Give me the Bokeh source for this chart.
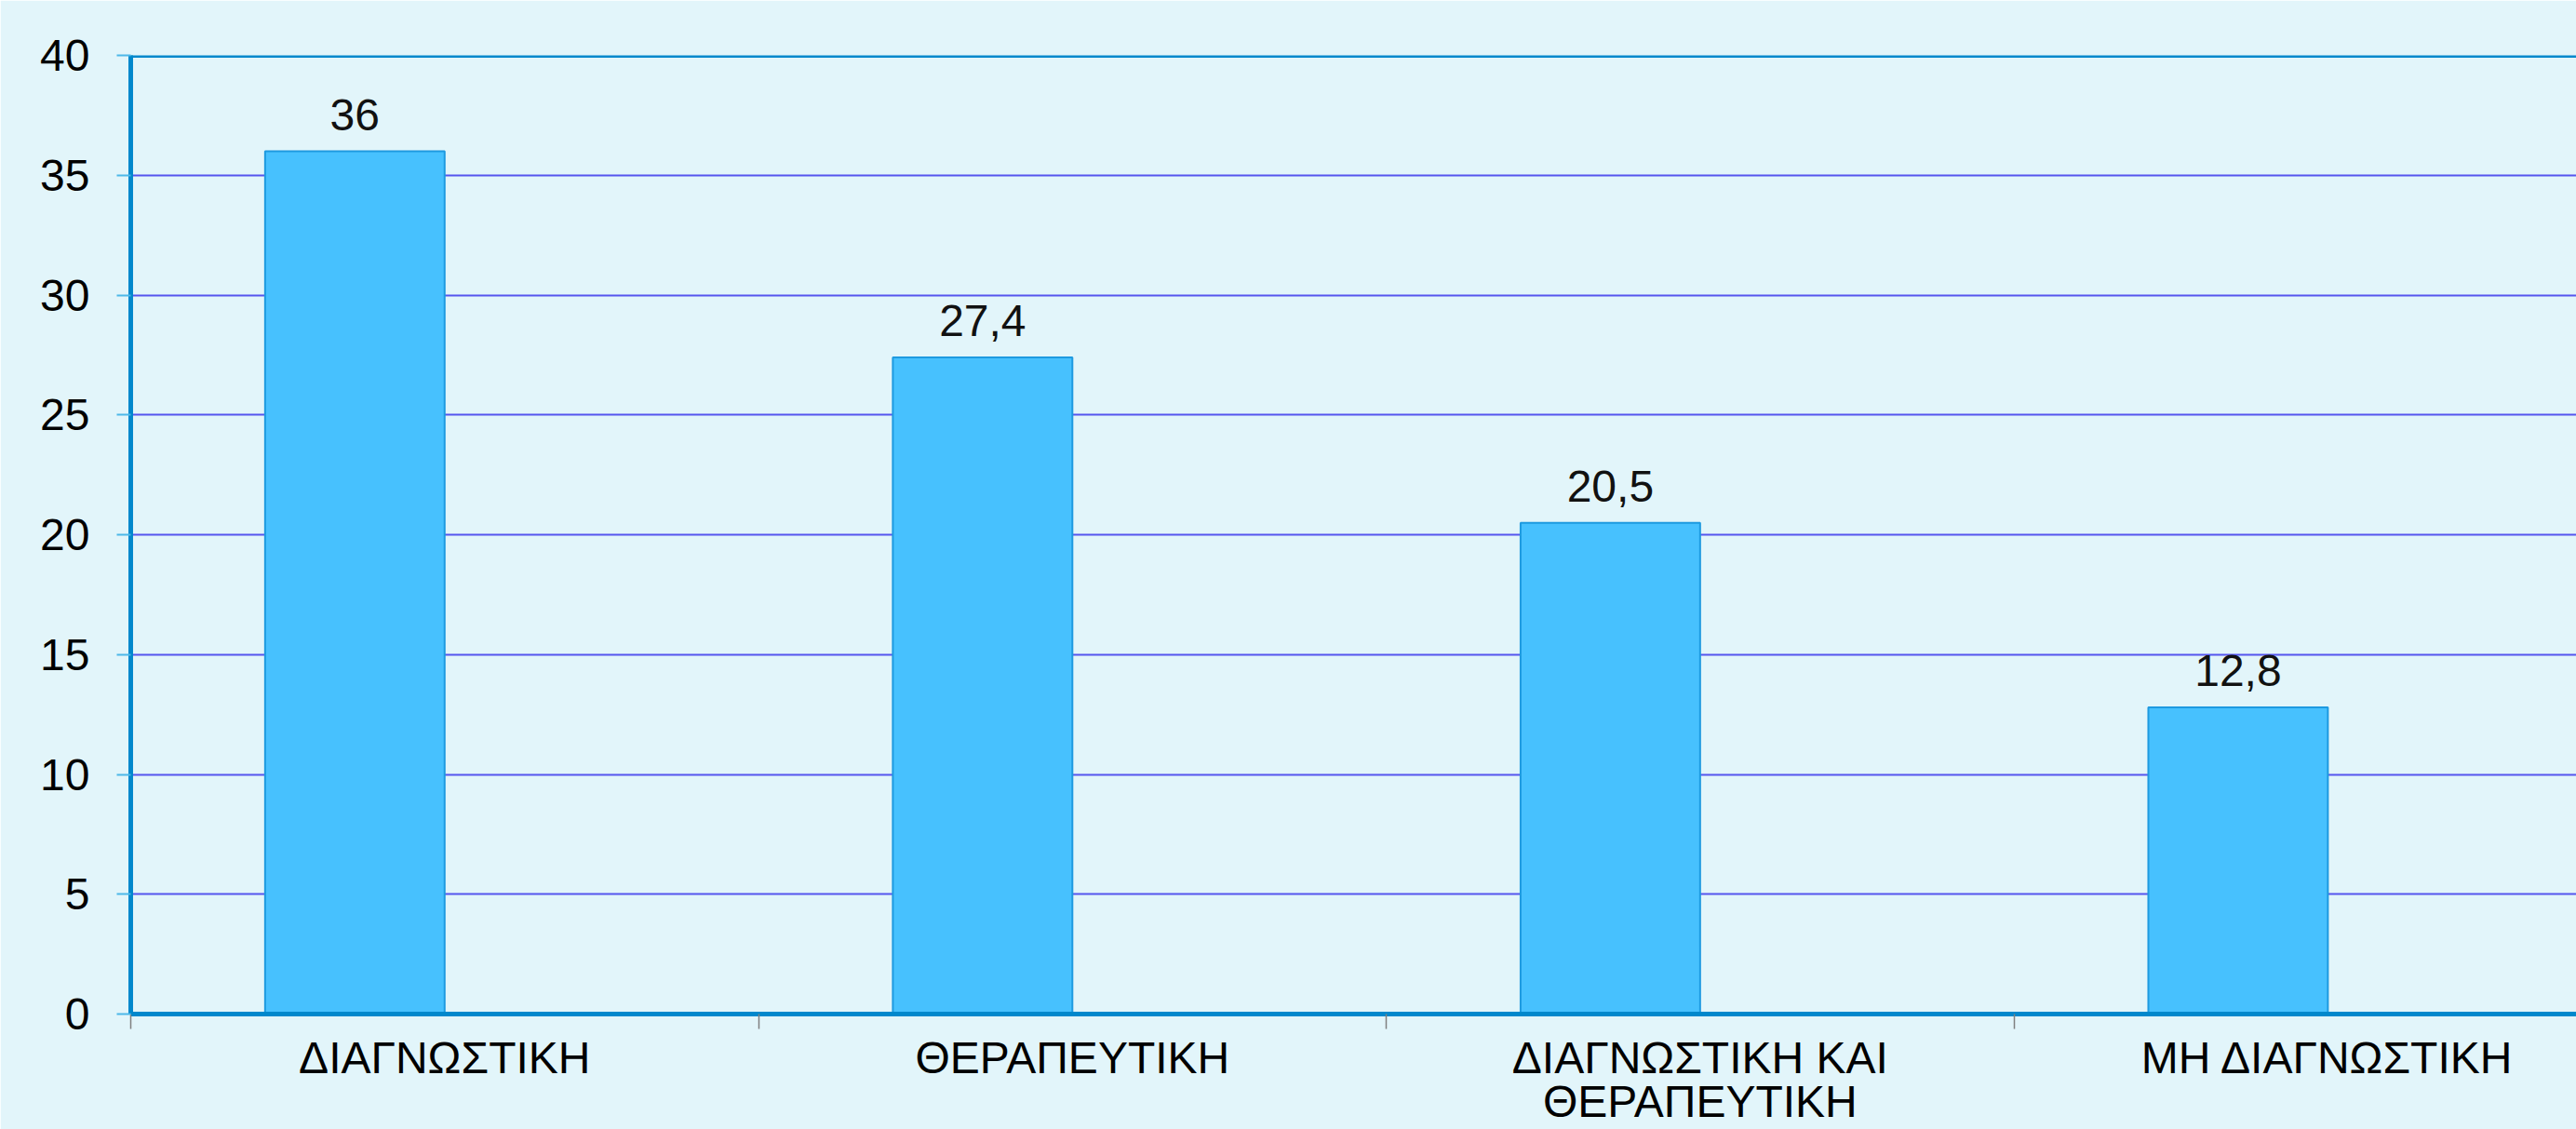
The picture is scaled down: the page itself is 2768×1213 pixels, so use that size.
import textwrap
from bokeh.plotting import figure
from bokeh.models import Range1d, FixedTicker, Span, LabelSet, ColumnDataSource
from bokeh.core.properties import value
from bokeh.embed import file_html
from bokeh.resources import INLINE

# ---- data ----
categories = ["ΔΙΑΓΝΩΣΤΙΚΗ", "ΘΕΡΑΠΕΥΤΙΚΗ", "ΔΙΑΓΝΩΣΤΙΚΗ ΚΑΙ ΘΕΡΑΠΕΥΤΙΚΗ", "ΜΗ ΔΙΑΓΝΩΣΤΙΚΗ"]
values = [36, 27.4, 20.5, 12.8]
y_ticks = [0, 5, 10, 15, 20, 25, 30, 35, 40]

# ---- style ----
FONT = "Liberation Sans"
FS = "48px"
BG = "#E2F5FA"
AXIS_BLUE = "#0088CC"
GRID = "#5555EE"
BAR_FILL = "#47C1FE"
BAR_LINE = "#1E9AE0"
BAR_W = 0.286

n = len(categories)
centers = [i + 0.5 for i in range(n)]
bar_x = [c - BAR_W / 2 for c in centers]
texts = [f"{v:g}".replace(".", ",") for v in values]
wrapped = ["\n".join(textwrap.wrap(c, 16)) for c in categories]

p = figure(width=2768, height=1213, output_backend="svg", toolbar_location=None,
           x_range=Range1d(0, 3.896), y_range=Range1d(0, 40),
           min_border_left=140, min_border_top=59, min_border_right=0, min_border_bottom=123)
p.background_fill_color = BG
p.border_fill_color = BG
p.outline_line_color = None

src = ColumnDataSource(dict(x=bar_x, top=values, text=texts))
p.vbar(x="x", top="top", bottom=0, width=BAR_W, source=src,
       fill_color=BAR_FILL, line_color=BAR_LINE, line_width=2)

p.add_layout(LabelSet(x="x", y="top", text="text", source=src, y_offset=23,
                      text_align="center", text_baseline="alphabetic",
                      text_font=value(FONT), text_font_size=value(FS), text_color="#111111"))

# grid
p.xgrid.grid_line_color = None
p.ygrid.ticker = FixedTicker(ticks=y_ticks)
p.ygrid.grid_line_color = GRID
p.ygrid.grid_line_width = 2

# y axis
p.yaxis.ticker = FixedTicker(ticks=y_ticks)
p.yaxis.axis_line_color = AXIS_BLUE
p.yaxis.axis_line_width = 5
p.yaxis.major_tick_out = 15
p.yaxis.major_tick_in = 0
p.yaxis.major_tick_line_color = "#4DB8E8"
p.yaxis.major_tick_line_width = 2
p.yaxis.minor_tick_line_color = None
p.yaxis.major_label_standoff = 29
p.yaxis.major_label_text_font = FONT
p.yaxis.major_label_text_font_size = FS
p.yaxis.major_label_text_color = "#000000"

# x axis
p.xaxis.ticker = FixedTicker(ticks=centers, minor_ticks=list(range(n)))
p.xaxis.major_label_overrides = {c: w for c, w in zip(centers, wrapped)}
p.xaxis.axis_line_color = AXIS_BLUE
p.xaxis.axis_line_width = 5
p.xaxis.major_tick_line_color = None
p.xaxis.major_tick_out = 0
p.xaxis.major_tick_in = 0
p.xaxis.minor_tick_out = 16
p.xaxis.minor_tick_in = 0
p.xaxis.minor_tick_line_color = "#808080"
p.xaxis.minor_tick_line_width = 1.5
p.xaxis.major_label_standoff = 4
p.xaxis.major_label_text_font = FONT
p.xaxis.major_label_text_font_size = FS
p.xaxis.major_label_text_line_height = 0.9
p.xaxis.major_label_text_color = "#000000"

# top frame line
p.add_layout(Span(location=40, dimension="width", line_color=AXIS_BLUE, line_width=5))

open("out.html", "w").write(file_html(p, INLINE))
